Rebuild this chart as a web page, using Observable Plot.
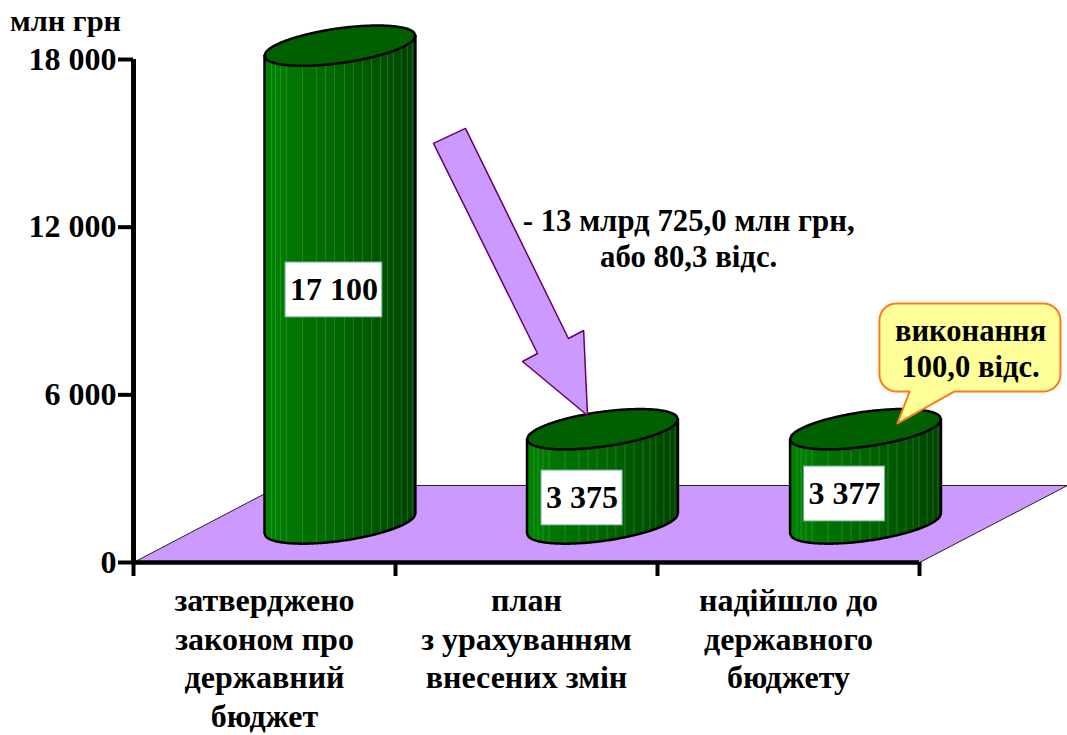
<!DOCTYPE html>
<html><head><meta charset="utf-8">
<script src="https://cdn.jsdelivr.net/npm/d3@7"></script>
<script src="https://cdn.jsdelivr.net/npm/@observablehq/plot@0.6"></script>
<style>html,body{margin:0;padding:0;background:#fff}svg{display:block;overflow:visible}</style>
</head><body><div id="chart"></div>
<script>
const categories = ["затверджено\nзаконом про\nдержавний\nбюджет", "план\nз урахуванням\nвнесених змін", "надійшло до\nдержавного\nбюджету"];
const categoryX = [0.5, 1.5, 2.5];
const values = [17100, 3375, 3377];
const valueLabels = ["17 100", "3 375", "3 377"];
const cylinderX = [0.788, 1.79, 2.794];
const labelX = [0.765, 1.712, 2.714];
const labelY = [9753, 2309, 2452];
const labelHalfW = [0.185, 0.155, 0.155];
const labelHalfH = 984;
const yTicks = [0, 6000, 12000, 18000];
const xTicks = [0, 1, 2, 3];
const yTickLabels = {0: "0", 6000: "6 000", 12000: "12 000", 18000: "18 000"};

const floorX = [0, 0.561, 3.565, 3, 0];
const floorY = [0, 2756, 2756, 0, 0];
const arrowX = [1.145, 1.267, 1.660, 1.718, 1.733, 1.485, 1.542, 1.145];
const arrowY = [14996, 15533, 8017, 8303, 5261, 7194, 7480, 14996];
const ribs = [0.046, 0.073, 0.106, 0.146, 0.252, 0.344, 0.404, 0.464, 0.53, 0.589, 0.649, 0.709, 0.768, 0.815, 0.854, 0.907, 0.947, 0.98];

// cylinder shape, expressed in axis units
const A = 0.288, SKEW = 358, B = 626, BASE = 1395;
const us = d3.range(-1, 1.0001, 0.02).map(u => Math.max(-1, Math.min(1, u)));
const lower = (level, u) => level + SKEW * u - B * Math.sqrt(Math.max(0, 1 - u * u));
const upper = (level, u) => level + SKEW * u + B * Math.sqrt(Math.max(0, 1 - u * u));

const bodies = values.flatMap((v, i) => us.map(u => ({
  id: i, x: cylinderX[i] + A * u, y1: lower(BASE, u), y2: lower(BASE + v, u)
})));
const outlines = values.flatMap((v, i) => [
  {id: i, x: cylinderX[i] - A, y: lower(BASE + v, -1)},
  ...us.map(u => ({id: i, x: cylinderX[i] + A * u, y: lower(BASE, u)})),
  {id: i, x: cylinderX[i] + A, y: lower(BASE + v, 1)}
]);
const tops = values.flatMap((v, i) => [
  ...us.map(u => ({id: i, x: cylinderX[i] + A * u, y: lower(BASE + v, u)})),
  ...us.slice().reverse().map(u => ({id: i, x: cylinderX[i] + A * u, y: upper(BASE + v, u)}))
]);
const ribLines = values.flatMap((v, i) => ribs.map(f => {
  const u = 2 * f - 1;
  return {x: cylinderX[i] + A * u, y1: lower(BASE, u), y2: lower(BASE + v, u)};
}));

// callout, in axis units
const CX1 = 2.847, CX2 = 3.538, CY1 = 6120, CY2 = 9270, RX = 0.065, RY = 608;
const corner = (cx, cy, a0) => d3.range(0, 1.01, 0.125).map(t => {
  const a = a0 + t * Math.PI / 2;
  return {x: cx + RX * Math.cos(a), y: cy + RY * Math.sin(a)};
});
const callout = [
  ...corner(CX1 + RX, CY1 + RY, Math.PI),
  {x: 2.962, y: CY1}, {x: 2.916, y: 4975}, {x: 3.134, y: CY1},
  ...corner(CX2 - RX, CY1 + RY, 1.5 * Math.PI),
  ...corner(CX2 - RX, CY2 - RY, 0),
  ...corner(CX1 + RX, CY2 - RY, Math.PI / 2),
  {x: CX1, y: CY1 + RY}
];

const font = "'Liberation Serif','Times New Roman',serif";
const gradient = () => {
  const ns = "http://www.w3.org/2000/svg";
  const defs = document.createElementNS(ns, "defs");
  const g = document.createElementNS(ns, "linearGradient");
  g.setAttribute("id", "cyl");
  [[0, "#008600"], [0.2, "#007400"], [0.5, "#006600"], [0.8, "#005200"], [1, "#004200"]].forEach(([o, c]) => {
    const s = document.createElementNS(ns, "stop");
    s.setAttribute("offset", o); s.setAttribute("stop-color", c); g.appendChild(s);
  });
  defs.appendChild(g);
  return defs;
};

const plot = Plot.plot({
  width: 1067, height: 735,
  marginLeft: 133, marginRight: 148, marginTop: 59, marginBottom: 173,
  style: {fontFamily: font, fontWeight: "bold", color: "#000", background: "#fff", overflow: "visible"},
  x: {domain: [0, 3], axis: null},
  y: {domain: [0, 18000], axis: null},
  marks: [
    gradient,
    Plot.line(floorX.map((x, i) => ({x, y: floorY[i]})), {x: "x", y: "y", fill: "#CC99FF", stroke: "#222", strokeWidth: 1, curve: "linear"}),
    Plot.ruleX([0], {y1: 0, y2: 18000, stroke: "#000", strokeWidth: 5}),
    Plot.ruleY([0], {x1: 0, x2: 3, stroke: "#000", strokeWidth: 4.5}),
    Plot.axisY({ticks: yTicks, anchor: "left", tickSize: 15, tickPadding: 2, strokeWidth: 4, stroke: "#000", fontSize: 32, label: null, tickFormat: d => yTickLabels[d], fill: "#000"}),
    Plot.axisX({ticks: xTicks, anchor: "bottom", tickSize: 14, strokeWidth: 4, stroke: "#000", label: null, tickFormat: () => ""}),
    Plot.areaY(bodies, {x: "x", y1: "y1", y2: "y2", z: "id", fill: "url(#cyl)", curve: "linear"}),
    Plot.ruleX(ribLines, {x: "x", y1: "y1", y2: "y2", stroke: "#9fd09f", strokeOpacity: 0.3, strokeWidth: 0.8}),
    Plot.line(outlines, {x: "x", y: "y", z: "id", stroke: "#000", strokeWidth: 2.5, curve: "linear"}),
    Plot.line(tops, {x: "x", y: "y", z: "id", fill: "#006000", stroke: "#000", strokeWidth: 2.5, curve: "linear"}),
    Plot.rect(values, {
      x1: (d, i) => labelX[i] - labelHalfW[i], x2: (d, i) => labelX[i] + labelHalfW[i],
      y1: (d, i) => labelY[i] - labelHalfH, y2: (d, i) => labelY[i] + labelHalfH,
      fill: "#fff", stroke: "#5aa98a", strokeWidth: 1
    }),
    Plot.text(valueLabels, {x: (d, i) => labelX[i], y: (d, i) => labelY[i], text: d => d, fontSize: 32, fill: "#000"}),
    Plot.line(arrowX.map((x, i) => ({x, y: arrowY[i]})), {x: "x", y: "y", fill: "#CC99FF", stroke: "#660066", strokeWidth: 1.5, curve: "linear"}),
    Plot.line(callout, {x: "x", y: "y", fill: "#FFFF99", stroke: "#FF7A1A", strokeWidth: 2, curve: "linear"}),
    Plot.text(["- 13 млрд 725,0 млн грн,\nабо 80,3 відс."], {x: 2.119, y: 11630, text: d => d, fontSize: 30.8, lineHeight: 1.17, fill: "#000"}),
    Plot.text(["виконання\n100,0 відс."], {x: 3.195, y: 7710, text: d => d, fontSize: 30.6, lineHeight: 1.176, fill: "#000"}),
    Plot.text(categories, {x: (d, i) => categoryX[i], y: [0, 0, 0].map(d => d), text: d => d, dy: 21, lineAnchor: "top", fontSize: 32, lineHeight: 1.21, fill: "#000"}),
    Plot.text(["млн грн"], {x: () => 0, y: () => 18000, text: d => d, dx: -68, dy: -38, fontSize: 30.4, fill: "#000"})
  ]
});
document.getElementById("chart").appendChild(plot);
</script></body></html>
